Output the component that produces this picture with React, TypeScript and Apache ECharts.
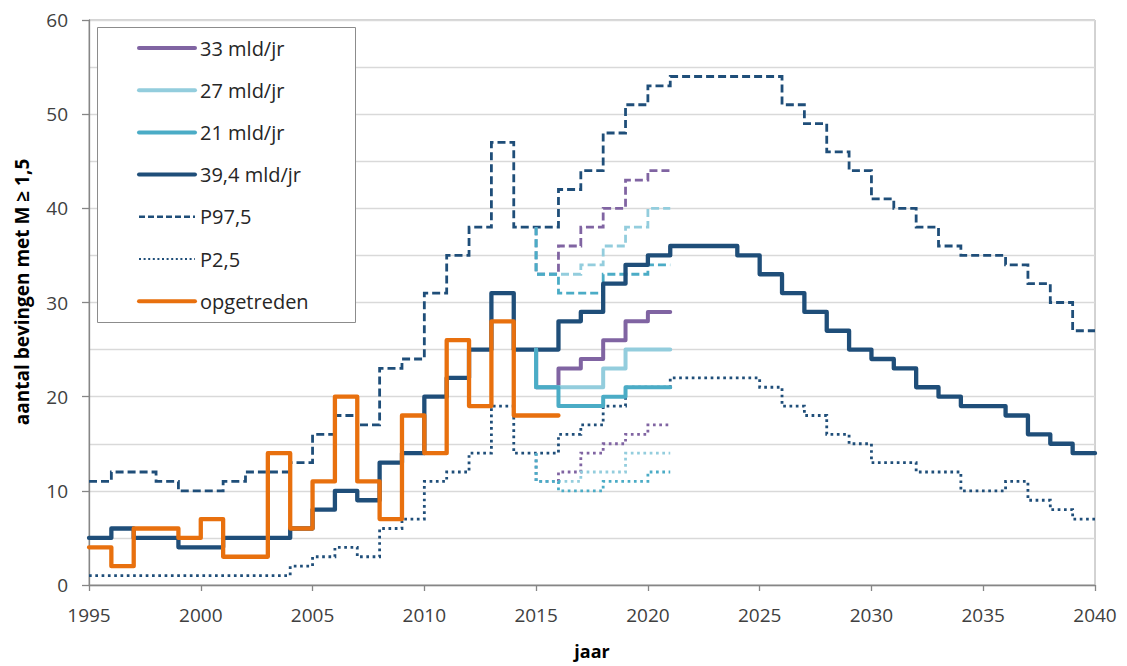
import React, { useEffect, useRef } from "react";
import * as echarts from "echarts";

// ---- data (values per year, held until the next year) ----
const START_YEAR = 1995;
const END_YEAR = 2040;
const xTicks = [1995, 2000, 2005, 2010, 2015, 2020, 2025, 2030, 2035, 2040];

// 39,4 mld/jr central estimate, 1995..2039 (ends 2040)
const central394 = [5, 6, 5, 5, 4, 4, 5, 5, 5, 6, 8, 10, 9, 13, 14, 20, 22, 25, 31, 25, 25, 28, 29, 32, 34, 35, 36, 36, 36, 35, 33, 31, 29, 27, 25, 24, 23, 21, 20, 19, 19, 18, 16, 15, 14];
// P97,5 upper band, 1995..2039
const p975 = [11, 12, 12, 11, 10, 10, 11, 12, 12, 13, 16, 18, 17, 23, 24, 31, 35, 38, 47, 38, 38, 42, 44, 48, 51, 53, 54, 54, 54, 54, 54, 51, 49, 46, 44, 41, 40, 38, 36, 35, 35, 34, 32, 30, 27];
// P2,5 lower band, 1995..2039
const p25 = [1, 1, 1, 1, 1, 1, 1, 1, 1, 2, 3, 4, 3, 6, 7, 11, 12, 14, 19, 14, 14, 16, 17, 19, 21, 21, 22, 22, 22, 22, 21, 19, 18, 16, 15, 13, 13, 12, 12, 10, 10, 11, 9, 8, 7];
// observed (opgetreden), 1995..2015 (ends 2016)
const observed = [4, 2, 6, 6, 5, 7, 3, 3, 14, 6, 11, 20, 11, 7, 18, 14, 26, 19, 28, 18, 18];
const OBS_END = 2016;

// scenarios, 2015..2020 (end 2021), branching off the 39,4 lines at 2015
const SCEN_START = 2015;
const SCEN_END = 2021;
const branchMid = 25;
const branchHi = 38;
const branchLo = 14;
const s33 = [21, 23, 24, 26, 28, 29];
const s27 = [21, 21, 21, 23, 25, 25];
const s21 = [21, 19, 19, 20, 21, 21];
const s33hi = [33, 36, 38, 40, 43, 44];
const s27hi = [33, 33, 34, 36, 38, 40];
const s21hi = [33, 31, 31, 33, 33, 34];
const s33lo = [11, 12, 14, 15, 16, 17];
const s27lo = [11, 11, 12, 12, 14, 14];
const s21lo = [11, 10, 10, 11, 11, 12];

const legendNames = ["33 mld/jr", "27 mld/jr", "21 mld/jr", "39,4 mld/jr", "P97,5", "P2,5", "opgetreden"];
const yTitle = "aantal bevingen met M ≥ 1,5";
const xTitle = "jaar";

const C_DARK = "#1F4E79";
const C_PURPLE = "#8064A2";
const C_LIGHT = "#93CDDD";
const C_MID = "#4BACC6";
const C_ORANGE = "#E8700E";
const FONT = "'Open Sans', 'Liberation Sans', sans-serif";

function steps(start: number, values: number[], endYear: number, branch?: number) {
  const d: number[][] = [];
  if (branch !== undefined) d.push([start, branch]);
  values.forEach((v, i) => d.push([start + i, v]));
  d.push([endYear, values[values.length - 1]]);
  return d;
}

const DASH = [8, 4];
const DOT = [2.7, 3.6];

function line(name: string, data: number[][], color: string, kind: "solid" | "dash" | "dot", width?: number) {
  const w = width ?? (kind === "solid" ? 4.3 : 2.8);
  return {
    name,
    type: "line",
    step: "end",
    data,
    symbol: "none",
    silent: true,
    lineStyle: {
      color,
      width: w,
      type: kind === "solid" ? "solid" : kind === "dash" ? DASH : DOT,
      cap: kind === "solid" ? "round" : "butt",
      join: kind === "solid" ? "round" : "miter",
    },
    itemStyle: { color },
  };
}

function legendItem(name: string) {
  if (name === "P97,5") return { name, lineStyle: { width: 2.6, type: [6, 3], cap: "butt" } };
  if (name === "P2,5") return { name, lineStyle: { width: 2, type: [2, 2.6], cap: "butt" } };
  return { name, lineStyle: { width: 4, cap: "round" } };
}

export default function App() {
  const ref = useRef<HTMLDivElement>(null);
  useEffect(() => {
    document.body.style.margin = "0";
    if (!ref.current) return;
    const chart = echarts.init(ref.current, null, { renderer: "svg" });
    const series = [
      line("P2,5", steps(START_YEAR, p25, END_YEAR), C_DARK, "dot"),
      line("P97,5", steps(START_YEAR, p975, END_YEAR), C_DARK, "dash"),
      line("33 lo", steps(SCEN_START, s33lo, SCEN_END, branchLo), C_PURPLE, "dot"),
      line("27 lo", steps(SCEN_START, s27lo, SCEN_END, branchLo), C_LIGHT, "dot"),
      line("21 lo", steps(SCEN_START, s21lo, SCEN_END, branchLo), C_MID, "dot"),
      line("33 hi", steps(SCEN_START, s33hi, SCEN_END, branchHi), C_PURPLE, "dash"),
      line("27 hi", steps(SCEN_START, s27hi, SCEN_END, branchHi), C_LIGHT, "dash"),
      line("21 hi", steps(SCEN_START, s21hi, SCEN_END, branchHi), C_MID, "dash"),
      line("39,4 mld/jr", steps(START_YEAR, central394, END_YEAR), C_DARK, "solid"),
      line("33 mld/jr", steps(SCEN_START, s33, SCEN_END, branchMid), C_PURPLE, "solid", 4),
      line("27 mld/jr", steps(SCEN_START, s27, SCEN_END, branchMid), C_LIGHT, "solid", 4),
      line("21 mld/jr", steps(SCEN_START, s21, SCEN_END, branchMid), C_MID, "solid", 4),
      line("opgetreden", steps(START_YEAR, observed, OBS_END), C_ORANGE, "solid"),
    ];
    chart.setOption({
      animation: false,
      backgroundColor: "#fff",
      textStyle: { fontFamily: FONT },
      grid: {
        left: 89,
        right: 32,
        top: 20,
        bottom: 81,
        containLabel: false,
        outerBoundsMode: "none",
        show: true,
        borderColor: "#A6A6A6",
        borderWidth: 1,
      },
      xAxis: {
        type: "value",
        min: START_YEAR,
        max: END_YEAR,
        interval: 5,
        axisLine: { show: true, lineStyle: { color: "#868686", width: 1.3 } },
        axisTick: { show: true, length: 6, lineStyle: { color: "#868686", width: 1.3 } },
        axisLabel: {
          fontSize: 19,
          color: "#404040",
          margin: 20,
          fontFamily: FONT,
          formatter: (v: number) => (xTicks.includes(v) ? String(v) : ""),
        },
        splitLine: { show: false },
      },
      yAxis: {
        type: "value",
        min: 0,
        max: 60,
        interval: 10,
        axisLine: { show: true, lineStyle: { color: "#868686", width: 1.3 } },
        axisTick: { show: true, length: 7, lineStyle: { color: "#868686", width: 1.3 } },
        axisLabel: { fontSize: 19, color: "#404040", margin: 21, fontFamily: FONT },
        splitLine: { show: true, lineStyle: { color: "#D9D9D9", width: 1.3 } },
        minorTick: { show: false, splitNumber: 2 },
        minorSplitLine: { show: true, lineStyle: { color: "#D9D9D9", width: 1.3 } },
      },
      graphic: [
        {
          type: "rect",
          left: 97,
          top: 27,
          z: 3,
          shape: { x: 0, y: 0, width: 258, height: 295 },
          style: { fill: "#fff", stroke: "#8C8C8C", lineWidth: 1 },
        },
        {
          type: "text",
          x: 22,
          y: 292,
          rotation: Math.PI / 2,
          z: 3,
          style: {
            text: yTitle,
            fontSize: 19,
            fontWeight: "bold",
            fontFamily: FONT,
            fill: "#000",
            align: "center",
            verticalAlign: "middle",
          },
        },
        {
          type: "text",
          x: 592,
          y: 651,
          z: 3,
          style: {
            text: xTitle,
            fontSize: 18,
            fontWeight: "bold",
            fontFamily: FONT,
            fill: "#000",
            align: "center",
            verticalAlign: "middle",
          },
        },
      ],
      legend: {
        data: legendNames.map(legendItem),
        orient: "vertical",
        left: 97,
        top: 27,
        padding: [11, 0, 0, 40],
        itemWidth: 56,
        itemHeight: 20,
        itemGap: 22.2,
        selectedMode: false,
        z: 5,
        itemStyle: { color: "rgba(0,0,0,0)", borderColor: "rgba(0,0,0,0)", borderWidth: 0 },
        textStyle: { fontSize: 20, color: "#262626", lineHeight: 20, fontFamily: FONT },
      },
      series,
    });
    return () => chart.dispose();
  }, []);
  return <div ref={ref} style={{ width: 1127, height: 666 }} />;
}
